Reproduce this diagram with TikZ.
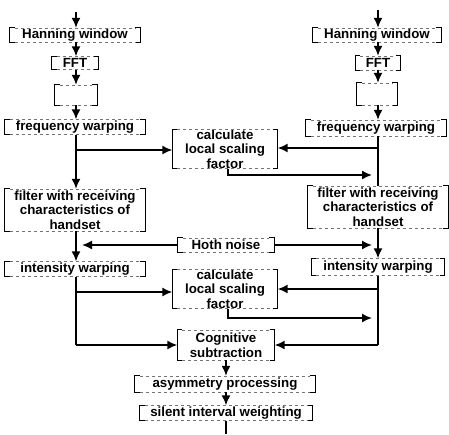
\documentclass[tikz,border=0pt]{standalone}
\usepackage{fontspec}
\setmainfont{Liberation Sans}
\usetikzlibrary{arrows.meta,calc}
\begin{document}
\begin{tikzpicture}[x=1pt,y=-1pt,
  bx/.style={inner sep=0pt, align=center, font=\bfseries\fontsize{13.3}{14.5}\selectfont},
  brk/.style={line width=1pt, black},
  faint/.style={line width=0.5pt, black!55, dash pattern=on 3pt off 3pt},
  conn/.style={line width=1.6pt, black},
  arr/.style={conn, -{Latex[length=10pt,width=9pt]}}]
\useasboundingbox (0,0) rectangle (449,434);
% left column
\node[bx, minimum width=130, minimum height=14] (hanL) at (75,35) {Hanning window};
\node[bx, minimum width=46, minimum height=13] (fftL) at (75,63) {FFT};
\node[bx, minimum width=42, minimum height=20] (empL) at (76,95) {};
\node[bx, minimum width=140, minimum height=15] (fwL) at (75,127) {frequency warping};
\node[bx, minimum width=140, minimum height=42] (filL) at (75,210) {filter with receiving\\characteristics of\\handset};
\node[bx, minimum width=140, minimum height=15] (iwL) at (75,269) {intensity warping};
% right column
\node[bx, minimum width=128, minimum height=14] (hanR) at (377,35) {Hanning window};
\node[bx, minimum width=45, minimum height=14] (fftR) at (378,63) {FFT};
\node[bx, minimum width=40, minimum height=22] (empR) at (377,94) {};
\node[bx, minimum width=140, minimum height=16] (fwR) at (376,128) {frequency warping};
\node[bx, minimum width=140, minimum height=42] (filR) at (378,207) {filter with receiving\\characteristics of\\handset};
\node[bx, minimum width=133, minimum height=17] (iwR) at (378,267) {intensity warping};
% middle
\node[bx, minimum width=105, minimum height=37] (calc1) at (225,149) {calculate\\local scaling\\factor};
\node[bx, minimum width=96, minimum height=14] (hoth) at (226,245) {Hoth noise};
\node[bx, minimum width=105, minimum height=38] (calc2) at (225,289) {calculate\\local scaling\\factor};
\node[bx, minimum width=97, minimum height=30] (cog) at (226,345) {Cognitive\\subtraction};
\node[bx, minimum width=180, minimum height=16] (asym) at (225,384) {asymmetry processing};
\node[bx, minimum width=172, minimum height=15] (sil) at (226,413) {silent interval weighting};
% bracket-style boxes
\foreach \n in {hanL,fftL,empL,fwL,filL,iwL,hanR,fftR,empR,fwR,filR,iwR,calc1,hoth,calc2,cog,asym,sil}{
  \draw[brk] ($(\n.north west)+(5,0)$) -- (\n.north west) -- (\n.south west) -- ($(\n.south west)+(5,0)$);
  \draw[brk] ($(\n.north east)+(-5,0)$) -- (\n.north east) -- (\n.south east) -- ($(\n.south east)+(-5,0)$);
  \draw[faint] ($(\n.north west)+(5,0)$) -- ($(\n.north east)+(-5,0)$);
  \draw[faint] ($(\n.south west)+(5,0)$) -- ($(\n.south east)+(-5,0)$);
}
% coordinates
\coordinate (inL) at (76,12);
\coordinate (inR) at (378,10);
\coordinate (bL1) at (76,150);
\coordinate (bR1) at (378,148);
\coordinate (mR1) at (372,175);
\coordinate (hL) at (82,245);
\coordinate (hR) at (372,245);
\coordinate (bL2) at (76,292);
\coordinate (bR2) at (378,289);
\coordinate (mR2) at (372,318);
\coordinate (out) at (226,434);
% left chain
\draw[arr] (inL) -- (inL |- hanL.north);
\draw[arr] (hanL.south -| inL) -- (inL |- fftL.north);
\draw[arr] (fftL.south -| inL) -- (inL |- empL.north);
\draw[arr] (empL.south) -- (empL.south |- fwL.north);
\draw[arr] (fwL.south -| bL1) -- (bL1 |- filL.north);
\draw[arr] (bL1) -- (bL1 -| calc1.west);
\draw[arr] (filL.south -| bL1) -- (bL1 |- iwL.north);
\draw[conn] (iwL.south -| bL1) -- (bL1 |- cog.west);
\draw[arr] (bL1 |- cog.west) -- (cog.west);
\draw[arr] (bL2) -- (bL2 -| calc2.west);
% right chain
\draw[arr] (inR) -- (inR |- hanR.north);
\draw[arr] (hanR.south -| inR) -- (inR |- fftR.north);
\draw[arr] (fftR.south -| inR) -- (inR |- empR.north);
\draw[arr] (empR.south -| inR) -- (inR |- fwR.north);
\draw[conn] (fwR.south -| bR1) -- (bR1 |- filR.north);
\draw[arr] (bR1) -- (bR1 -| calc1.east);
\draw[arr] ([xshift=3pt]calc1.south) |- (mR1);
\draw[arr] (filR.south -| bR1) -- (bR1 |- iwR.north);
\draw[conn] (iwR.south -| bR1) -- (bR1 |- cog.east);
\draw[arr] (bR1 |- cog.east) -- (cog.east);
\draw[arr] (bR2) -- (bR2 -| calc2.east);
\draw[arr] ([xshift=3pt]calc2.south) |- (mR2);
% Hoth noise
\draw[arr] (hoth.west) -- (hL);
\draw[arr] (hoth.east) -- (hR);
% bottom chain
\draw[arr] (cog.south) -- (cog.south |- asym.north);
\draw[arr] (asym.south -| cog.south) -- (cog.south |- sil.north);
\draw[conn] (sil.south) -- (out);
\end{tikzpicture}
\end{document}
